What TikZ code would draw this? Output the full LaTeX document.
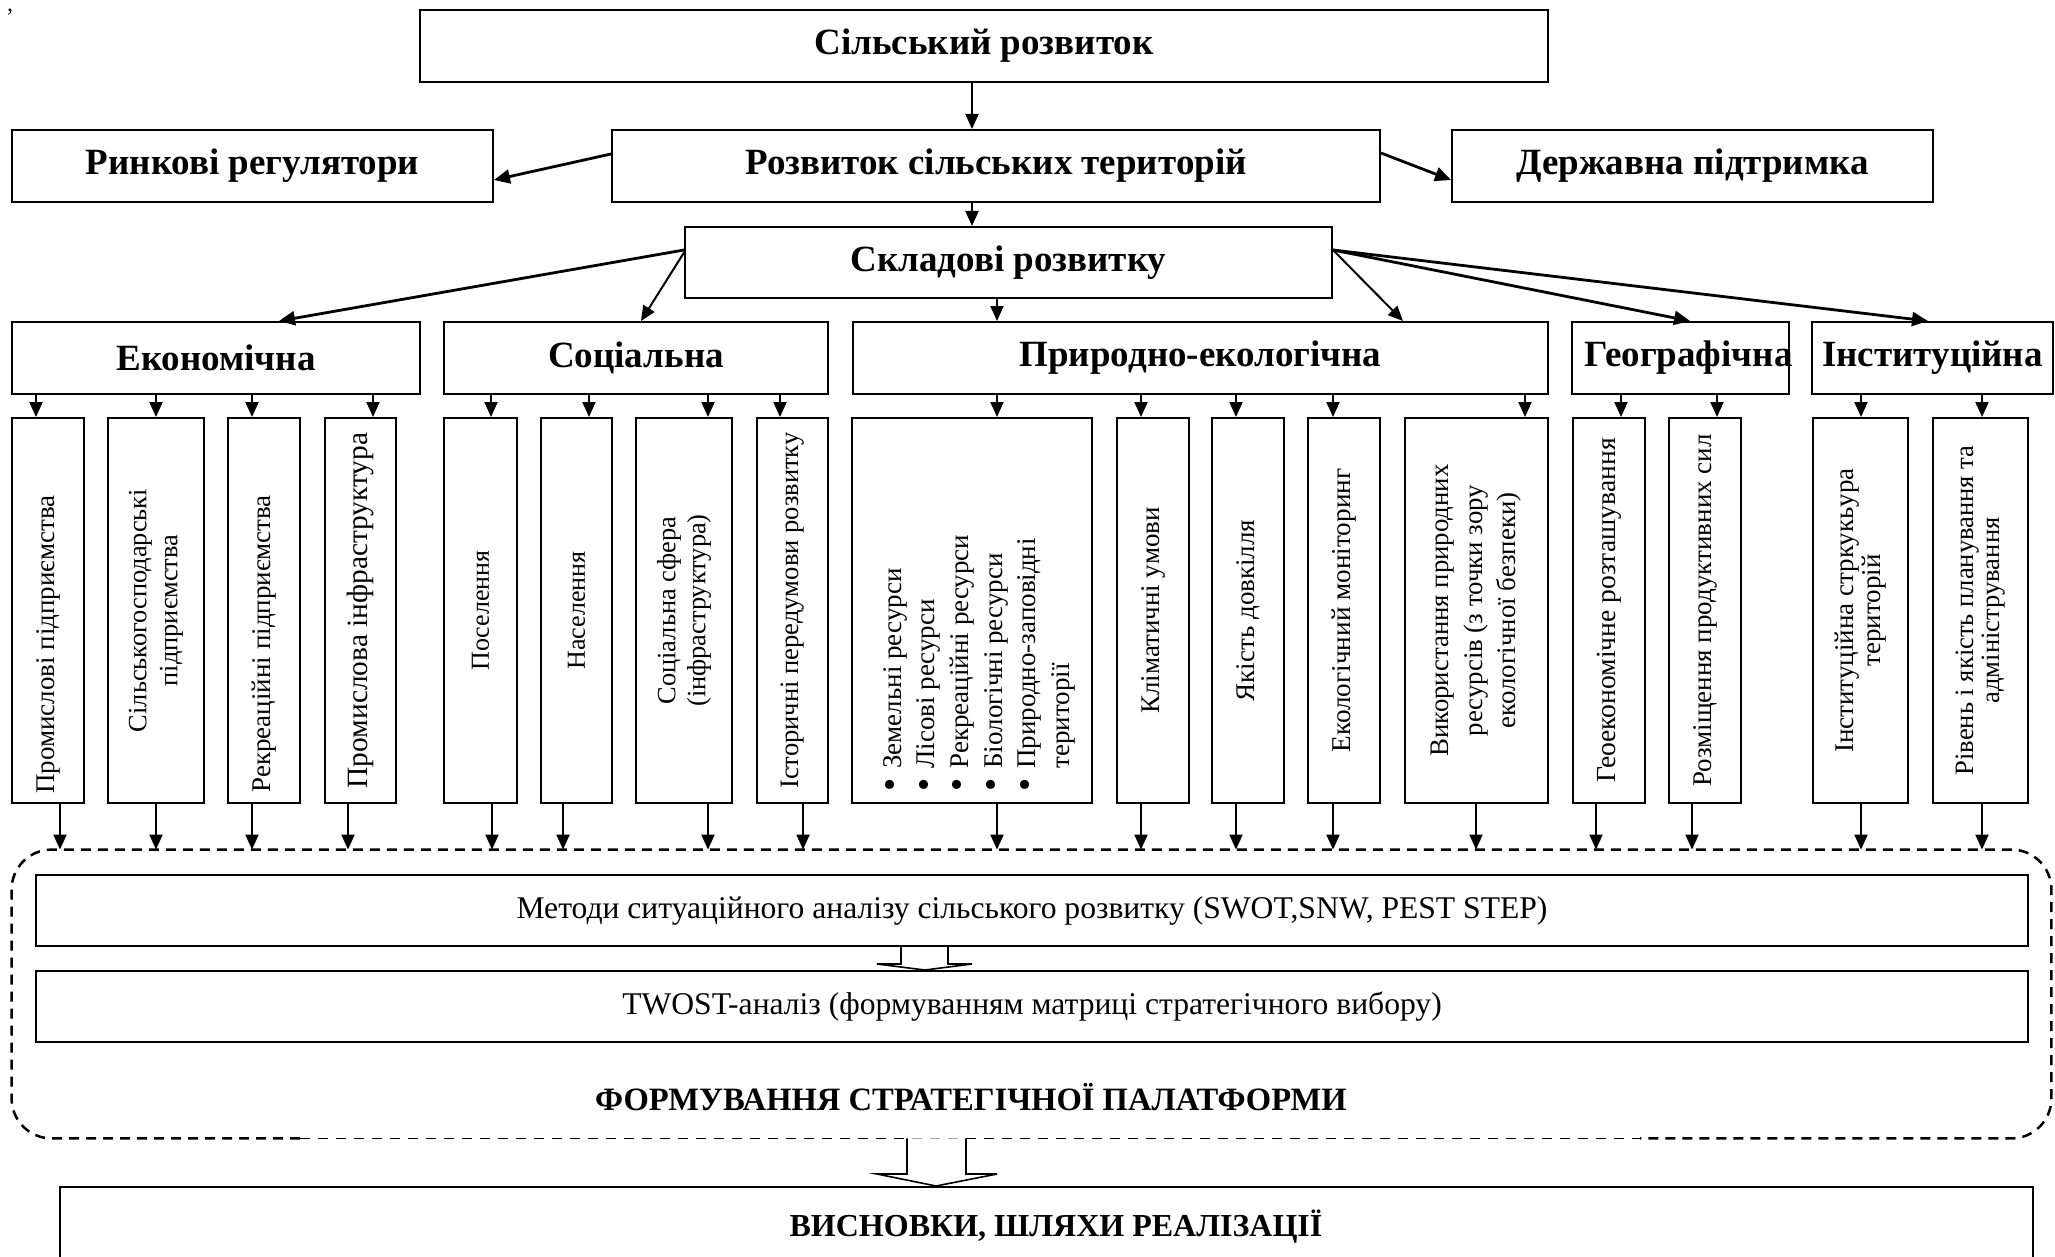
\documentclass[tikz,border=0pt]{standalone}
\usepackage{fontspec}
\usepackage{graphicx}
\setmainfont{Liberation Serif}
\usetikzlibrary{arrows.meta}

% \bx{name}{x1}{y1}{x2}{y2}{style}{text}: a box given by its corners (pixel units)
\newcommand\bx[7]{\node[#6, minimum width={(#4-#2)*0.5pt}, minimum height={(#5-#3)*0.5pt}] (#1) at ({(#2+#4)/2},{(#3+#5)/2}) {#7};}
\newcommand\fs[2]{\fontsize{#1}{#2}\selectfont}
\newcommand\bul{\makebox[11.5pt][l]{\raisebox{-0.7pt}{\scalebox{1.4}{•}}}}

\tikzset{
  box/.style={draw, line width=1pt, inner sep=0pt, fill=white},
  hdr/.style={font=\fs{18.5}{22}\bfseries},
  reg/.style={font=\fs{15.8}{19}},
  vt/.style={rotate=90, align=center, inner sep=0pt},
  arr/.style={-{Triangle[length=7.5pt,width=6.5pt]}, line width=1pt},
  darr/.style={-{Triangle[length=8pt,width=7pt]}, line width=1.4pt},
  hol/.style={draw, fill=white, line width=0.8pt, line join=miter},
  fbold/.style={line width=1.25pt, dash pattern=on 5pt off 3.5pt},
  fthin/.style={line width=0.6pt, dash pattern=on 5pt off 4pt},
}

\begin{document}
\begin{tikzpicture}[x=0.5pt,y=-0.5pt]
\useasboundingbox (0,0) rectangle (2055,1257);
\clip (0,0) rectangle (2055,1257);

\node[font=\fs{12}{12}, inner sep=0pt, anchor=north] (tick) at (10,9) {,};

% upper levels
\bx{sr}{420}{10}{1548}{82}{box,hdr}{Сільський розвиток}
\bx{rynok}{12}{130}{493}{202}{box,hdr}{Ринкові регулятори}
\bx{rozv}{612}{130}{1380}{202}{box,hdr}{Розвиток сільських територій}
\bx{derzh}{1452}{130}{1933}{202}{box,hdr}{Державна підтримка}
\bx{sklad}{685}{227}{1332}{298}{box,hdr}{Складові розвитку}

% components
\bx{ek}{12}{322}{420}{394}{box,hdr}{Економічна}
\bx{soc}{444}{322}{828}{394}{box,hdr}{Соціальна}
\bx{pryr}{853}{322}{1548}{394}{box,hdr}{Природно-екологічна}
\bx{geo}{1572}{322}{1789}{394}{box,hdr}{}
\node[hdr, inner sep=0pt] (geot) at ([xshift=4pt]geo.center) {Географічна};
\bx{inst}{1812}{322}{2053}{394}{box,hdr}{Інституційна}

% factor boxes
\bx{b1}{12}{418}{84}{803}{box}{}
\bx{b2}{108}{418}{204}{803}{box}{}
\bx{b3}{228}{418}{300}{803}{box}{}
\bx{b4}{325}{418}{396}{803}{box}{}
\bx{b5}{444}{418}{517}{803}{box}{}
\bx{b6}{541}{418}{612}{803}{box}{}
\bx{b7}{636}{418}{732}{803}{box}{}
\bx{b8}{757}{418}{828}{803}{box}{}
\bx{b9}{852}{418}{1092}{803}{box}{}
\bx{b10}{1117}{418}{1189}{803}{box}{}
\bx{b11}{1212}{418}{1284}{803}{box}{}
\bx{b12}{1308}{418}{1380}{803}{box}{}
\bx{b13}{1405}{418}{1548}{803}{box}{}
\bx{b14}{1573}{418}{1645}{803}{box}{}
\bx{b15}{1669}{418}{1741}{803}{box}{}
\bx{b16}{1813}{418}{1908}{803}{box}{}
\bx{b17}{1933}{418}{2028}{803}{box}{}

% vertical labels
\node[vt, font=\fs{13.5}{15}, anchor=west] (t1) at ([yshift=5pt]b1.south) {Промислові підприємства};
\node[vt, font=\fs{13.2}{15.5}] (t2) at (b2) {Сільськогосподарські\\підприємства};
\node[vt, font=\fs{13.5}{15}, anchor=west] (t3) at ([yshift=5.5pt]b3.south) {Рекреаційні підприємства};
\node[vt, font=\fs{14.7}{17}] (t4) at (b4) {Промислова інфраструктура};
\node[vt, font=\fs{13}{15}] (t5) at (b5) {Поселення};
\node[vt, font=\fs{13}{15}] (t6) at (b6) {Населення};
\node[vt, font=\fs{13.2}{15}] (t7) at (b7) {Соціальна сфера\\(інфраструктура)};
\node[vt, font=\fs{13.3}{15}] (t8) at (b8) {Історичні передумови розвитку};
\node[vt, font=\fs{13.5}{16.8}, align=left, anchor=north west] (t9) at ([xshift=16pt,yshift=6pt]b9.south west)
  {\bul Земельні ресурси\\
   \bul Лісові ресурси\\
   \bul Рекреаційні ресурси\\
   \bul Біологічні ресурси\\
   \bul Природно-заповідні\\
   \hspace*{11.5pt}території};
\node[vt, font=\fs{13.5}{15}] (t10) at (b10) {Кліматичні умови};
\node[vt, font=\fs{13.5}{15}] (t11) at (b11) {Якість довкілля};
\node[vt, font=\fs{13.6}{15}] (t12) at (b12) {Екологічний моніторинг};
\node[vt, font=\fs{13.4}{16.75}] (t13) at (b13) {Використання природних\\ресурсів (з точки зору\\екологічної безпеки)};
\node[vt, font=\fs{13.8}{15}] (t14) at (b14) {Геоекономічне розташування};
\node[vt, font=\fs{13.5}{15}] (t15) at (b15) {Розміщення продуктивних сил};
\node[vt, font=\fs{13.5}{13.5}] (t16) at (b16) {Інституційна стркукьура\\територій};
\node[vt, font=\fs{13.3}{13.2}] (t17) at (b17) {Рівень і якість планування та\\адміністрування};

% analysis frame and its contents
\bx{frame}{12}{850}{2051}{1138}{inner sep=0pt}{}
\draw[fbold, rounded corners=20pt] (300,0 |- frame.south) -- (frame.south west) -- (frame.north west)
  -- (frame.north east) -- (frame.south east) -- (1640,0 |- frame.south);
\draw[fthin] (300,0 |- frame.south) -- (1640,0 |- frame.south);
\bx{met}{36}{875}{2028}{946}{box,reg}{Методи ситуаційного аналізу сільського розвитку (SWOT,SNW, PEST STEP)}
\bx{tw}{36}{971}{2028}{1042}{box,reg}{TWOST-аналіз (формуванням матриці стратегічного вибору)}
\node[font=\fs{16.3}{19}\bfseries, inner sep=0pt] (plat) at (971,1097) {ФОРМУВАННЯ СТРАТЕГІЧНОЇ ПАЛАТФОРМИ};

\bx{concl}{60}{1187}{2033}{1300}{box}{}
\node[font=\fs{16}{19}\bfseries, inner sep=0pt] (conclt) at (1056,1227) {ВИСНОВКИ, ШЛЯХИ РЕАЛІЗАЦІЇ};

% block arrows
\draw[hol] (901,0 |- met.south) -- (901,964) -- (877,964) -- (925,0 |- tw.north) -- (972,964) -- (948,964) -- (948,0 |- met.south);
\draw[hol] (907,0 |- frame.south) -- (907,1174) -- (877,1174) -- (936,0 |- concl.north) -- (997,1174) -- (966,1174) -- (966,0 |- frame.south);

% connectors of the upper levels
\draw[arr] (972,0 |- sr.south) -- (972,0 |- rozv.north);
\draw[darr] ([yshift=6pt]rozv.west) -- ([yshift=-7pt]rynok.east);
\draw[darr] ([yshift=6.5pt]rozv.east) -- ([yshift=-7pt]derzh.west);
\draw[arr] (972,0 |- rozv.south) -- (972,0 |- sklad.north);
\draw[darr] ([yshift=6.25pt]sklad.west) -- (279,0 |- ek.north);
\draw[arr] ([yshift=5pt]sklad.west) -- (641,0 |- soc.north);
\draw[arr] (997,0 |- sklad.south) -- (997,0 |- pryr.north);
\draw[arr] ([yshift=6.25pt]sklad.east) -- (1403,0 |- pryr.north);
\draw[darr] ([yshift=6.25pt]sklad.east) -- (1690,0 |- geo.north);
\draw[darr] ([yshift=6.25pt]sklad.east) -- (1928,0 |- inst.north);

% components to factors
\foreach \bn/\xx/\src in {b1/36/ek, b2/156/ek, b3/252/ek, b4/373/ek,
  b5/491/soc, b6/589/soc, b7/708/soc, b8/780/soc,
  b9/997/pryr, b10/1141/pryr, b11/1236/pryr, b12/1333/pryr, b13/1525/pryr,
  b14/1621/geo, b15/1717/geo, b16/1861/inst, b17/1982/inst}
  \draw[arr] (\xx,0 |- \src.south) -- (\xx,0 |- \bn.north);

% factors to the analysis frame
\foreach \bn/\xx in {b1/60, b2/156, b3/252, b4/348, b5/492, b6/563, b7/708, b8/803,
  b9/997, b10/1141, b11/1236, b12/1333, b13/1476, b14/1596, b15/1692, b16/1861, b17/1982}
  \draw[arr] (\xx,0 |- \bn.south) -- (\xx,0 |- frame.north);
\end{tikzpicture}
\end{document}
